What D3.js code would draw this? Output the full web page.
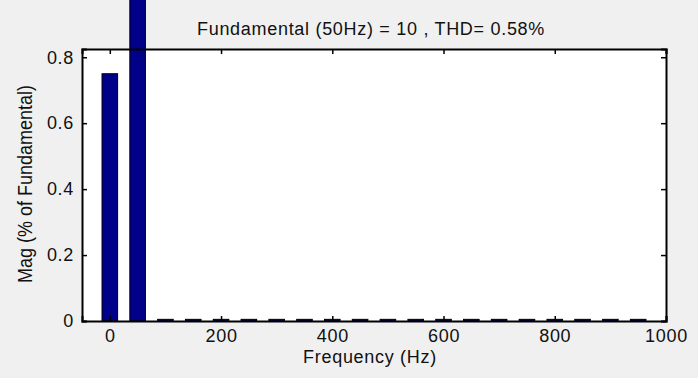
<!DOCTYPE html>
<html>
  <head>
    <title>FFT Analysis</title>
    <style>
      body {margin:0; background:#f0f0f0;}
      svg {display:block; background:#f0f0f0;}
      text {font-family:"Liberation Sans", Arial, sans-serif; fill:#111;}
      .title, .lbl {font-size:18px; letter-spacing:0.7px;}
      .ylbl {font-size:18px; letter-spacing:0;}
      .axis text {font-family:"Liberation Sans", Arial, sans-serif; font-size:18px; letter-spacing:0.7px; fill:#111;}
      .axis path, .axis line {fill:none; stroke:#000; stroke-width:1.5px;}
    </style>
    <script src="https://cdn.jsdelivr.net/npm/d3@7"></script>
  </head>
  <body>
    <svg id="fft" width="698" height="378"></svg>
    <script>
      var svgWidth  = 698;
      var svgHeight = 378;
      var margin    = {top: 49, bottom: 57, left: 82, right: 32};

      // data
      var freqs   = [0, 50, 100, 150, 200, 250, 300, 350, 400, 450, 500, 550, 600, 650, 700, 750, 800, 850, 900, 950];
      var mags    = [0.75, 100, 0.005, 0.005, 0.005, 0.005, 0.005, 0.005, 0.005, 0.005, 0.005, 0.005, 0.005, 0.005, 0.005, 0.005, 0.005, 0.005, 0.005, 0.005];
      var xTicks  = [0, 200, 400, 600, 800, 1000];
      var yTicks  = [0, 0.2, 0.4, 0.6, 0.8];
      var titleText = "Fundamental (50Hz) = 10 , THD= 0.58%";

      var w = svgWidth - margin.left - margin.right;
      var h = svgHeight - margin.top - margin.bottom;

      var x = d3.scaleLinear().domain([-50, 1000]).range([margin.left, margin.left + w]);
      var y = d3.scaleLinear().domain([0, 0.825]).range([margin.top + h, margin.top]);
      var barW = x(28) - x(0);

      var svg = d3.select("#fft");

      svg.append("rect")
         .attr("x", margin.left).attr("y", margin.top)
         .attr("width", w).attr("height", h)
         .style("fill", "white");

      svg.selectAll("rect.bar")
         .data(mags)
         .enter()
         .append("rect")
         .attr("class", "bar")
         .attr("x", function(d, i) {return x(freqs[i]) - barW / 2;})
         .attr("y", function(d) {return Math.max(y(d), -5);})
         .attr("width", barW)
         .attr("height", function(d) {return y(0) - Math.max(y(d), -5);})
         .style("fill", "#000088")
         .style("stroke", "#000")
         .style("stroke-width", 1);

      // axes, ticks point inward, mirrored on top and right
      svg.append("g").attr("class", "axis")
         .attr("transform", "translate(0," + (margin.top + h) + ")")
         .call(d3.axisBottom(x).tickValues(xTicks).tickSize(-5).tickPadding(8).tickFormat(d3.format("d")));
      svg.append("g").attr("class", "axis")
         .attr("transform", "translate(0," + margin.top + ")")
         .call(d3.axisTop(x).tickValues(xTicks).tickSize(-5).tickFormat(""));
      svg.append("g").attr("class", "axis")
         .attr("transform", "translate(" + margin.left + ",0)")
         .call(d3.axisLeft(y).tickValues(yTicks).tickSize(-5).tickPadding(8)
               .tickFormat(function(d) {return d === 0 ? "0" : d3.format(".1f")(d);}));
      svg.append("g").attr("class", "axis")
         .attr("transform", "translate(" + (margin.left + w) + ",0)")
         .call(d3.axisRight(y).tickValues(yTicks).tickSize(-5).tickFormat(""));

      svg.selectAll(".axis .domain").style("stroke-width", "2px");

      svg.append("text")
         .attr("class", "title")
         .attr("x", 371)
         .attr("y", 35)
         .attr("text-anchor", "middle")
         .text(titleText);

      svg.append("text")
         .attr("class", "lbl")
         .attr("x", 370)
         .attr("y", 363)
         .attr("text-anchor", "middle")
         .text("Frequency (Hz)");

      svg.append("text")
         .attr("class", "ylbl")
         .attr("transform", "translate(32,184) rotate(-90) scale(1,1.08)")
         .attr("text-anchor", "middle")
         .text("Mag (% of Fundamental)");
    </script>
  </body>
</html>
